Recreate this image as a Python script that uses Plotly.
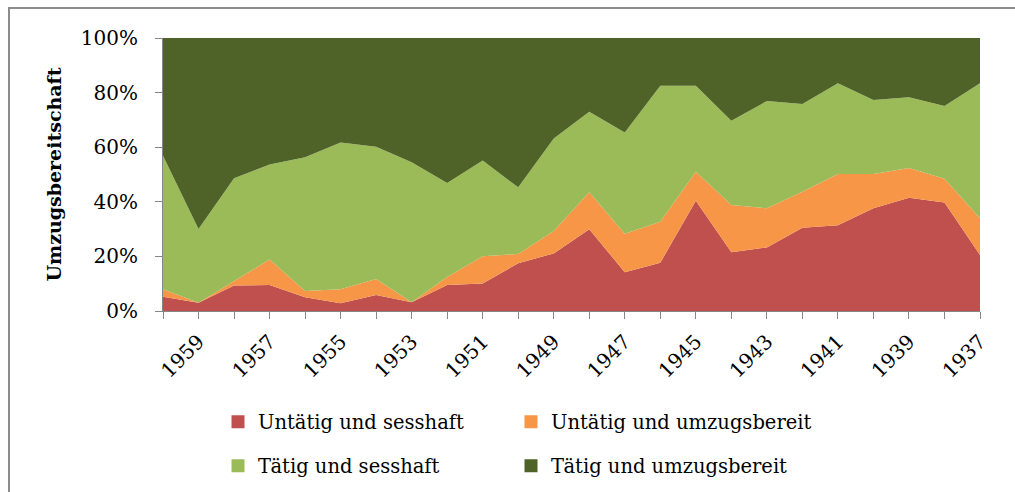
import plotly.graph_objects as go

# Jahrgänge (x-Achse läuft von 1960 nach 1937)
years = list(range(1960, 1936, -1))

# Anteile je Gruppe in Prozent, von unten nach oben gestapelt
untaetig_sesshaft = [5.2, 3.0, 9.3, 9.5, 5.0, 2.8, 5.9, 3.2, 9.5, 10.1, 17.5, 21.1,
                     29.9, 14.2, 17.7, 40.4, 21.5, 23.3, 30.5, 31.4, 37.6, 41.5, 39.7, 20.5]
untaetig_umzugsbereit = [2.8, 0.0, 1.7, 9.4, 2.3, 5.2, 5.8, 0.0, 3.0, 10.0, 3.4, 8.2,
                         13.6, 14.1, 15.0, 10.6, 17.3, 14.3, 13.2, 18.8, 12.6, 10.9, 8.7, 13.5]
taetig_sesshaft = [48.9, 27.0, 37.6, 34.8, 49.0, 53.7, 48.5, 51.3, 34.4, 35.0, 24.4, 33.9,
                   29.5, 37.1, 49.8, 31.5, 30.9, 39.3, 32.1, 33.2, 27.1, 25.9, 26.7, 49.4]
taetig_umzugsbereit = [43.1, 70.0, 51.4, 46.3, 43.7, 38.3, 39.8, 45.5, 53.1, 44.9, 54.7, 36.8,
                       27.0, 34.6, 17.5, 17.5, 30.3, 23.1, 24.2, 16.6, 22.7, 21.7, 24.9, 16.6]

series = [
    ('Untätig und sesshaft', untaetig_sesshaft, '#C0504D'),
    ('Untätig und umzugsbereit', untaetig_umzugsbereit, '#F79646'),
    ('Tätig und sesshaft', taetig_sesshaft, '#9BBB59'),
    ('Tätig und umzugsbereit', taetig_umzugsbereit, '#4F6228'),
]

FONT = 'DejaVu Serif'
GRAY = '#868686'

fig = go.Figure()

for name, vals, color in series:
    fig.add_trace(go.Scatter(
        x=years, y=vals, name=name,
        mode='lines', stackgroup='one', groupnorm='percent',
        line=dict(width=0, color=color), fillcolor=color,
        showlegend=False, hoverinfo='x+y+name'
    ))

# Legende 2x2: jede Zelle eine eigene Legende
legend_ids = ['legend', 'legend2', 'legend3', 'legend4']
for (name, vals, color), leg in zip(series, legend_ids):
    fig.add_trace(go.Scatter(
        x=[None], y=[None], name=name, mode='markers',
        marker=dict(symbol='square', size=13, color=color),
        legend=leg, showlegend=True
    ))

L, R, T, B = 163, 35, 38, 181
W, H = 1015, 492
pw, ph = W - L - R, H - T - B

def px_x(x):
    return (x - L) / pw

def px_y(y):
    return (H - B - y) / ph

legend_style = dict(
    orientation='h', xanchor='left', yanchor='middle',
    xref='container', yref='container',
    font=dict(family=FONT, size=19.5, color='#000'),
    itemwidth=30, bgcolor='rgba(0,0,0,0)'
)

col_x = [218, 511]
row_y = [422, 466]

def cx(x):
    return x / W

def cy(y):
    return 1 - y / H

fig.update_layout(
    width=W, height=H,
    margin=dict(l=L, r=R, t=T, b=B),
    paper_bgcolor='white', plot_bgcolor='white',
    font=dict(family=FONT, size=20, color='#000'),
    legend=dict(x=cx(col_x[0]), y=cy(row_y[0]), **legend_style),
    legend2=dict(x=cx(col_x[1]), y=cy(row_y[0]), **legend_style),
    legend3=dict(x=cx(col_x[0]), y=cy(row_y[1]), **legend_style),
    legend4=dict(x=cx(col_x[1]), y=cy(row_y[1]), **legend_style),
    shapes=[dict(
        type='rect', xref='paper', yref='paper',
        x0=px_x(9), x1=px_x(1040), y0=px_y(520), y1=px_y(8),
        line=dict(color='#8c8c8c', width=2), fillcolor='rgba(0,0,0,0)', layer='below'
    )],
)

fig.update_xaxes(
    range=[1960, 1937], tickmode='linear', tick0=1959, dtick=2,
    tickangle=-45, ticks='outside', ticklen=7, tickcolor=GRAY, ticklabelstandoff=3,
    showline=True, linecolor=GRAY, linewidth=1, showgrid=False, zeroline=False,
    tickfont=dict(family=FONT, size=20),
    minor=dict(ticks='outside', ticklen=7, tickcolor=GRAY, tick0=1960, dtick=1, showgrid=False),
)

fig.update_yaxes(
    range=[0, 100], tickmode='linear', tick0=0, dtick=20, ticksuffix='%',
    ticks='outside', ticklen=7, tickcolor=GRAY, ticklabelstandoff=13,
    showline=True, linecolor=GRAY, linewidth=1, showgrid=False, zeroline=False,
    tickfont=dict(family=FONT, size=20),
    title=dict(text='<b>Umzugsbereitschaft</b>', font=dict(family=FONT, size=19), standoff=14),
)

fig.write_html("out.html", config={'displayModeBar': False},
               post_script="document.body.style.margin='0';")
